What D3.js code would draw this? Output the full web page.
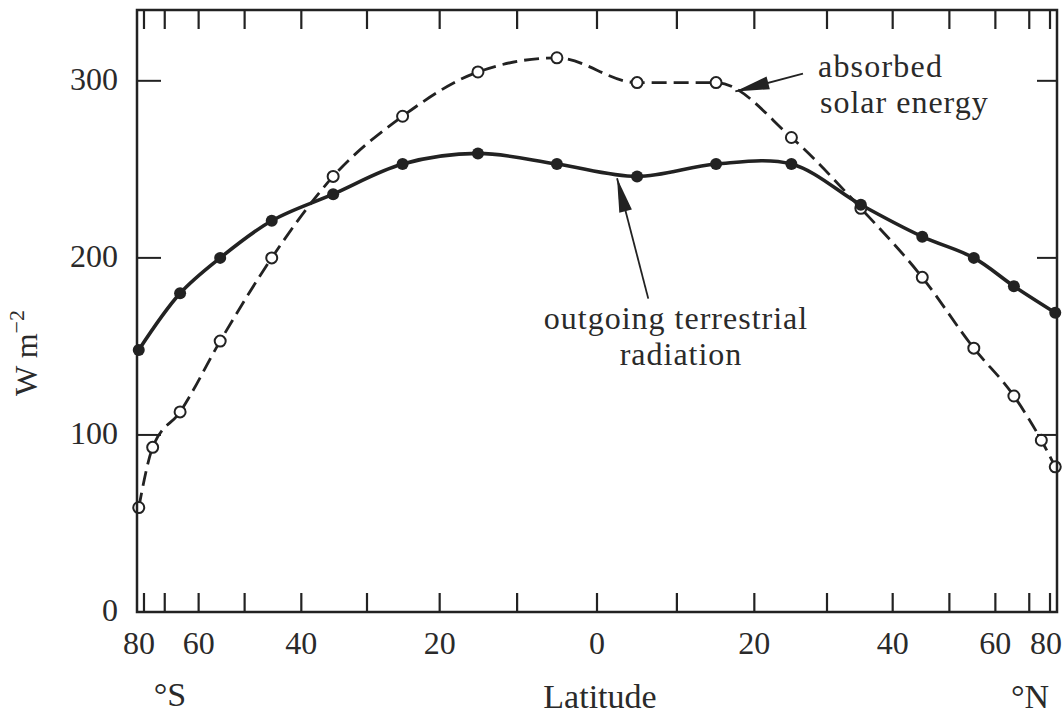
<!DOCTYPE html>
<html>
<head>
<meta charset="utf-8">
<script src="https://cdn.jsdelivr.net/npm/d3@7"></script>
<style>
  html, body { margin: 0; padding: 0; background: #fff; }
  svg { display: block; }
  text { font-family: "Liberation Serif", "DejaVu Serif", serif; fill: #2a2a2a; }
</style>
</head>
<body>
<svg id="chart" width="1064" height="714"></svg>
<script>
// ---- data ----
const absorbedLat = [-85, -75, -65, -55, -45, -35, -25, -15, -5, 5, 15, 25, 35, 45, 55, 65, 75, 85];
const absorbedVal = [59, 93, 113, 153, 200, 246, 280, 305, 313, 299, 299, 268, 228, 189, 149, 122, 97, 82];
const outgoingLat = [-85, -65, -55, -45, -35, -25, -15, -5, 5, 15, 25, 35, 45, 55, 65, 85];
const outgoingVal = [148, 180, 200, 221, 236, 253, 259, 253, 246, 253, 253, 230, 212, 200, 184, 169];
const xTickLats = [-80, -70, -60, -50, -40, -30, -20, -10, 0, 10, 20, 30, 40, 50, 60, 70, 80];
const xLabelLats = [-80, -60, -40, -20, 0, 20, 40, 60, 80];
const yTicks = [0, 100, 200, 300];
const yRightTicks = [100, 200, 300];

// ---- layout ----
const L = 137, R = 1057, T = 10, B = 612;
const svg = d3.select("#chart");
const ink = "#222";

// x axis: area-weighted (sine of latitude)
const sx = d3.scaleLinear().domain([-1, 1]).range([L, R]);
const x = lat => sx(Math.sin(lat * Math.PI / 180));
const y = d3.scaleLinear().domain([0, 340]).range([B, T]);

const absorbed = absorbedLat.map((lat, i) => ({ lat, v: absorbedVal[i] }));
const outgoing = outgoingLat.map((lat, i) => ({ lat, v: outgoingVal[i] }));

const lineA = d3.line().x(d => x(d.lat)).y(d => y(d.v)).curve(d3.curveMonotoneX);
const lineO = d3.line().x(d => x(d.lat)).y(d => y(d.v)).curve(d3.curveCatmullRom.alpha(0.5));

// curves
svg.append("path").datum(absorbed).attr("d", lineA)
  .attr("fill", "none").attr("stroke", ink).attr("stroke-width", 2.8)
  .attr("stroke-dasharray", "15,7");
svg.append("path").datum(outgoing).attr("d", lineO)
  .attr("fill", "none").attr("stroke", ink).attr("stroke-width", 3.6);

// markers
svg.selectAll(".open").data(absorbed).enter().append("circle")
  .attr("cx", d => x(d.lat)).attr("cy", d => y(d.v)).attr("r", 5.5)
  .attr("fill", "#fff").attr("stroke", ink).attr("stroke-width", 2);
svg.selectAll(".filled").data(outgoing).enter().append("circle")
  .attr("cx", d => x(d.lat)).attr("cy", d => y(d.v)).attr("r", 6)
  .attr("fill", ink);

// frame
svg.append("rect").attr("x", L).attr("y", T).attr("width", R - L).attr("height", B - T)
  .attr("fill", "none").attr("stroke", ink).attr("stroke-width", 2.5);

// x ticks (bottom, pointing up; top, pointing down)
const tickLen = 19;
svg.selectAll(".xb").data(xTickLats).enter().append("line")
  .attr("x1", d => x(d)).attr("x2", d => x(d)).attr("y1", B).attr("y2", B - tickLen)
  .attr("stroke", ink).attr("stroke-width", 2.2);
svg.selectAll(".xt").data(xTickLats).enter().append("line")
  .attr("x1", d => x(d)).attr("x2", d => x(d)).attr("y1", T).attr("y2", T + tickLen)
  .attr("stroke", ink).attr("stroke-width", 2.2);

// y ticks
svg.selectAll(".yl").data(yTicks.filter(d => d > 0)).enter().append("line")
  .attr("x1", L).attr("x2", L + 24).attr("y1", d => y(d)).attr("y2", d => y(d))
  .attr("stroke", ink).attr("stroke-width", 2);
svg.selectAll(".yr").data(yRightTicks).enter().append("line")
  .attr("x1", R).attr("x2", R - 20).attr("y1", d => y(d)).attr("y2", d => y(d))
  .attr("stroke", ink).attr("stroke-width", 2);

// y tick labels
svg.selectAll(".ylab").data(yTicks).enter().append("text")
  .attr("x", 118).attr("y", d => y(d) + 9)
  .attr("text-anchor", "end").attr("font-size", 32)
  .text(d => d);

// x tick labels
svg.selectAll(".xlab").data(xLabelLats).enter().append("text")
  .attr("x", d => d === -80 ? x(d) - 5 : Math.min(x(d), 1046)).attr("y", 654)
  .attr("text-anchor", "middle").attr("font-size", 32)
  .text(d => Math.abs(d));

// axis titles
svg.append("text").attr("x", 600).attr("y", 708).attr("text-anchor", "middle")
  .attr("font-size", 34).text("Latitude");
svg.append("text").attr("x", 170).attr("y", 706).attr("text-anchor", "middle")
  .attr("font-size", 34).text("°S");
svg.append("text").attr("x", 1030).attr("y", 708).attr("text-anchor", "middle")
  .attr("font-size", 34).text("°N");

const ylab = svg.append("text")
  .attr("transform", "translate(37,353) rotate(-90)")
  .attr("text-anchor", "middle").attr("font-size", 32);
ylab.append("tspan").text("W m");
ylab.append("tspan").attr("font-size", 22).attr("dy", -13).text("−2");

// annotations
function arrow(tipLat, tipVal, tailLat, tailVal) {
  const tx = x(tipLat), ty = y(tipVal), ex = x(tailLat), ey = y(tailVal);
  svg.append("line").attr("x1", tx).attr("y1", ty).attr("x2", ex).attr("y2", ey)
    .attr("stroke", ink).attr("stroke-width", 1.8);
  const dx = ex - tx, dy = ey - ty, len = Math.hypot(dx, dy);
  const ux = dx / len, uy = dy / len, hl = 34, hw = 6.5;
  const bx = tx + ux * hl, by = ty + uy * hl;
  svg.append("path")
    .attr("d", `M${tx},${ty}L${bx - uy * hw},${by + ux * hw}L${bx + uy * hw},${by - ux * hw}Z`)
    .attr("fill", ink);
}
arrow(17.5, 294, 26.6, 304);
arrow(2.5, 245, 6.4, 177);

svg.append("text").attr("x", 818).attr("y", 77).attr("font-size", 32)
  .attr("letter-spacing", 1.2).text("absorbed");
svg.append("text").attr("x", 820).attr("y", 113).attr("font-size", 32)
  .attr("letter-spacing", 1.0).text("solar energy");
svg.append("text").attr("x", 676).attr("y", 329).attr("text-anchor", "middle")
  .attr("font-size", 32).attr("letter-spacing", 1.0).text("outgoing terrestrial");
svg.append("text").attr("x", 681).attr("y", 365).attr("text-anchor", "middle")
  .attr("font-size", 32).attr("letter-spacing", 1.0).text("radiation");
</script>
</body>
</html>
